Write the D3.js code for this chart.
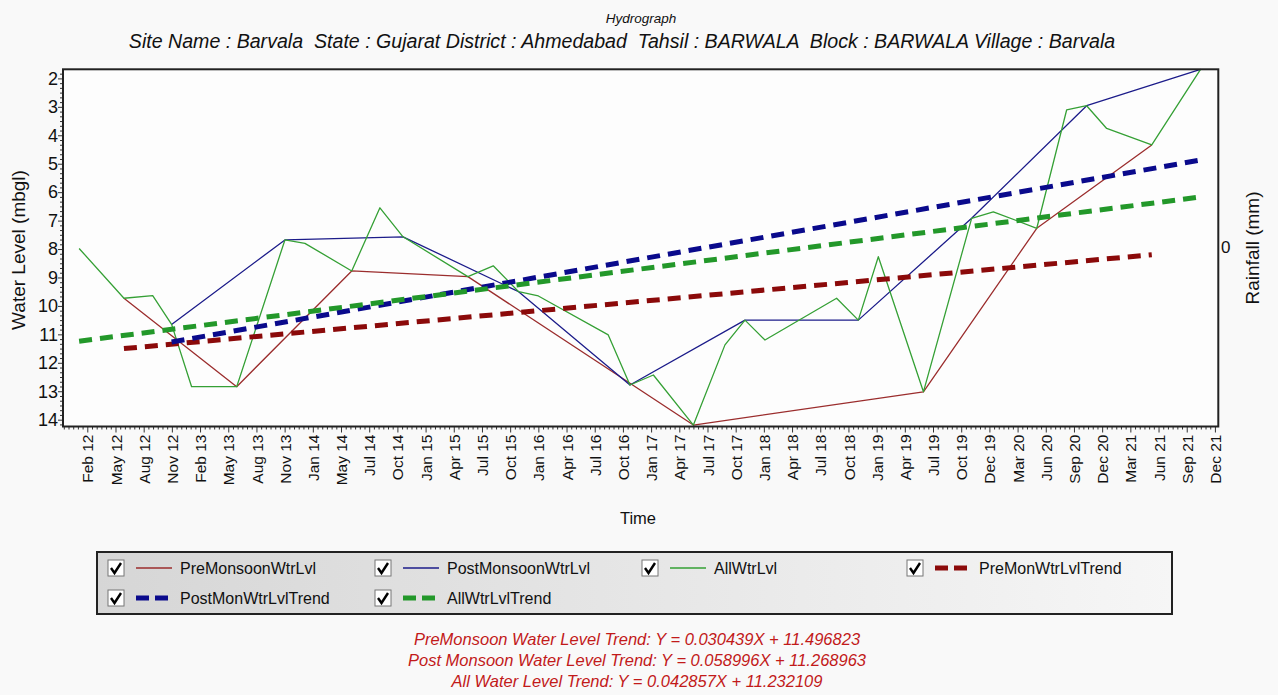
<!DOCTYPE html>
<html><head><meta charset="utf-8">
<script src="https://cdn.jsdelivr.net/npm/d3@7"></script>
<style>
body{margin:0;background:#f9f9f9;}
svg{display:block;font-family:"Liberation Sans",Arial,sans-serif;}
text{white-space:pre;}
</style>
</head><body>
<svg id="c" width="1278" height="695"></svg>
<script>
// ---- data (x in tick-label units: 0 = "Feb 12", 1 = "May 12", ...) ----
const tickLabels = ["Feb 12","May 12","Aug 12","Nov 12","Feb 13","May 13","Aug 13","Nov 13","Jan 14","May 14",
  "Jul 14","Oct 14","Jan 15","Apr 15","Jul 15","Oct 15","Jan 16","Apr 16","Jul 16","Oct 16",
  "Jan 17","Apr 17","Jul 17","Oct 17","Jan 18","Apr 18","Jul 18","Oct 18","Jan 19","Apr 19",
  "Jul 19","Oct 19","Dec 19","Mar 20","Jun 20","Sep 20","Dec 20","Mar 21","Jun 21","Sep 21","Dec 21"];
const yTicks = [2,3,4,5,6,7,8,9,10,11,12,13,14];

const preX  = [1.3, 5.3, 9.38, 13.5, 21.5, 29.66, 33.68, 37.76];
const preY  = [9.73, 12.84, 8.77, 8.97, 14.19, 13.02, 7.27, 4.34];

const postX = [2.99, 7.01, 11.2, 15.3, 19.25, 23.33, 27.35, 31.37, 35.45, 39.49];
const postY = [10.65, 7.68, 7.57, 9.5, 12.78, 10.5, 10.5, 6.92, 2.96, 1.68];

const allX  = [-0.29, 1.3, 2.32, 2.99, 3.70, 5.30, 7.01, 7.72, 9.38, 10.38, 11.2, 13.5, 14.4, 15.3, 16.0,
  18.48, 19.25, 20.08, 21.5, 22.62, 23.33, 24.04, 26.58, 27.35, 28.06, 29.66, 31.37, 32.14, 33.68,
  34.74, 35.45, 36.16, 37.76, 39.49];
const allY  = [7.98, 9.73, 9.64, 10.65, 12.84, 12.84, 7.68, 7.80, 8.77, 6.55, 7.57, 8.97, 8.59, 9.5, 9.65,
  11.02, 12.78, 12.43, 14.19, 11.37, 10.5, 11.2, 9.73, 10.5, 8.27, 13.02, 6.92, 6.69, 7.27,
  3.11, 2.96, 3.76, 4.34, 1.68];

const preTrendX  = [1.3, 37.76],  preTrendY  = [11.50, 8.20];
const postTrendX = [2.99, 39.49], postTrendY = [11.27, 4.87];
const allTrendX  = [-0.29, 39.49], allTrendY = [11.24, 6.17];

const legendNames = ["PreMonsoonWtrLvl","PostMonsoonWtrLvl","AllWtrLvl","PreMonWtrLvlTrend","PostMonWtrLvlTrend","AllWtrLvlTrend"];
const trendTexts = ["PreMonsoon Water Level Trend: Y = 0.030439X + 11.496823",
  "Post Monsoon Water Level Trend: Y = 0.058996X + 11.268963",
  "All Water Level Trend: Y = 0.042857X + 11.232109"];
const titleText = "Hydrograph";
const subTitleText = "Site Name : Barvala  State : Gujarat District : Ahmedabad  Tahsil : BARWALA  Block : BARWALA Village : Barvala";

// ---- styles ----
const C = {pre:"#9b2d2d", post:"#1c1c8a", all:"#35a035", preT:"#8b0a0a", postT:"#0a0a8c", allT:"#23982a"};
const L = 63, R = 1218.3, T = 69.3, B = 426.5;

const svg = d3.select("#c");
const x = d3.scaleLinear().domain([-0.862, 40.12]).range([L, R]);
const y = d3.scaleLinear().domain([1.68, 14.24]).range([T, B]);

svg.append("rect").attr("x",L).attr("y",T).attr("width",R-L).attr("height",B-T).attr("fill","#fdfdfd");

// titles
svg.append("text").attr("x",641).attr("y",23).attr("text-anchor","middle")
  .attr("font-style","italic").attr("font-size",13.5).attr("fill","#111").text(titleText);
svg.append("text").attr("x",622).attr("y",48).attr("text-anchor","middle")
  .attr("font-style","italic").attr("font-size",19.6).attr("fill","#111").text(subTitleText);

// axes
const minorX = d3.range(-5, 241).map(k => k/6).filter(v => v > -0.86 && v < 40.12 && Math.abs(v - Math.round(v)) > 1e-6);
svg.append("g").attr("transform",`translate(0,${B})`)
  .call(d3.axisBottom(x).tickValues(minorX).tickSize(3).tickFormat(""));
const gx = svg.append("g").attr("transform",`translate(0,${B})`)
  .call(d3.axisBottom(x).tickValues(d3.range(tickLabels.length)).tickSize(6).tickFormat(i => tickLabels[i]));
gx.selectAll("text").attr("transform","rotate(-90)").attr("text-anchor","end")
  .attr("x",-8).attr("y",0).attr("dy","0.36em").attr("font-size",15.5).attr("fill","#111");

const minorY = d3.range(10, 86).map(k => k/6).filter(v => v > 1.68 && v < 14.24 && Math.abs(v - Math.round(v)) > 1e-6);
svg.append("g").attr("transform",`translate(${L},0)`)
  .call(d3.axisLeft(y).tickValues(minorY).tickSize(3).tickFormat(""));
const gy = svg.append("g").attr("transform",`translate(${L},0)`)
  .call(d3.axisLeft(y).tickValues(yTicks).tickSize(5).tickFormat(d3.format("d")));
gy.selectAll("text").attr("font-size",18).attr("fill","#111").attr("x",-5);

svg.selectAll(".domain").remove();
svg.selectAll(".tick line").attr("stroke","#333");

// axis titles
svg.append("text").attr("transform","translate(25,250) rotate(-90)").attr("text-anchor","middle")
  .attr("font-size",19).attr("fill","#111").text("Water Level (mbgl)");
svg.append("text").attr("transform","translate(1259,248) rotate(-90)").attr("text-anchor","middle")
  .attr("font-size",19).attr("fill","#111").text("Rainfall (mm)");
svg.append("text").attr("x",1221).attr("y",247).attr("dy","0.35em")
  .attr("font-size",17).attr("fill","#111").text("0");
svg.append("text").attr("x",638).attr("y",524).attr("text-anchor","middle")
  .attr("font-size",16.5).attr("fill","#111").text("Time");

// clip
svg.append("clipPath").attr("id","clip").append("rect").attr("x",L).attr("y",T-2).attr("width",R-L).attr("height",B-T+4);
const plot = svg.append("g").attr("clip-path","url(#clip)");
const line = d3.line().x(d => x(d[0])).y(d => y(d[1]));
const zip = (a,b) => a.map((v,i) => [v,b[i]]);

function drawSeries(xs, ys, color, width, dash){
  plot.append("path").datum(zip(xs,ys)).attr("d",line).attr("fill","none")
    .attr("stroke",color).attr("stroke-width",width).attr("stroke-dasharray",dash||null)
    .attr("stroke-linejoin","round");
}
drawSeries(preX, preY, C.pre, 1.3);
drawSeries(postX, postY, C.post, 1.3);
drawSeries(allX, allY, C.all, 1.3);
drawSeries(preTrendX, preTrendY, C.preT, 5, "13,8");
drawSeries(postTrendX, postTrendY, C.postT, 5, "13,8");
drawSeries(allTrendX, allTrendY, C.allT, 5, "13,8");

// plot border
svg.append("rect").attr("x",L).attr("y",T).attr("width",R-L).attr("height",B-T)
  .attr("fill","none").attr("stroke","#222").attr("stroke-width",2);

// legend
const defs = svg.append("defs");
const lg = defs.append("linearGradient").attr("id","lgbg");
lg.append("stop").attr("offset","0%").attr("stop-color","#d6d6d6");
lg.append("stop").attr("offset","100%").attr("stop-color","#f6f6f6");
svg.append("rect").attr("x",97).attr("y",552).attr("width",1075).attr("height",62)
  .attr("fill","url(#lgbg)").attr("stroke","#222").attr("stroke-width",2);
const legendItems = [
  {bx:108, cy:568, c:C.pre,  w:1.5, dash:null},
  {bx:375, cy:568, c:C.post, w:1.5, dash:null},
  {bx:642, cy:568, c:C.all,  w:1.5, dash:null},
  {bx:907, cy:568, c:C.preT, w:5, dash:"13,6"},
  {bx:108, cy:598, c:C.postT,w:5, dash:"13,6"},
  {bx:375, cy:598, c:C.allT, w:5, dash:"13,6"}
];
legendItems.forEach((it,i) => {
  const g = svg.append("g").attr("transform",`translate(${it.bx},${it.cy})`);
  g.append("rect").attr("x",0).attr("y",-8).attr("width",16).attr("height",16)
    .attr("fill","#fff").attr("stroke","#777").attr("stroke-width",1);
  g.append("path").attr("d","M3,0 L6.5,5 L13,-5").attr("fill","none").attr("stroke","#000").attr("stroke-width",2.4);
  g.append("line").attr("x1",28).attr("x2",64).attr("y1",0).attr("y2",0)
    .attr("stroke",it.c).attr("stroke-width",it.w).attr("stroke-dasharray",it.dash);
  g.append("text").attr("x",72).attr("y",0).attr("dy","0.35em").attr("font-size",16)
    .attr("fill","#111").text(legendNames[i]);
});

// trend equations
trendTexts.forEach((t,i) => {
  svg.append("text").attr("x",637).attr("y",645 + i*21).attr("text-anchor","middle")
    .attr("font-style","italic").attr("font-size",16.5).attr("fill","#c21a1a").text(t);
});
</script>
</body></html>
